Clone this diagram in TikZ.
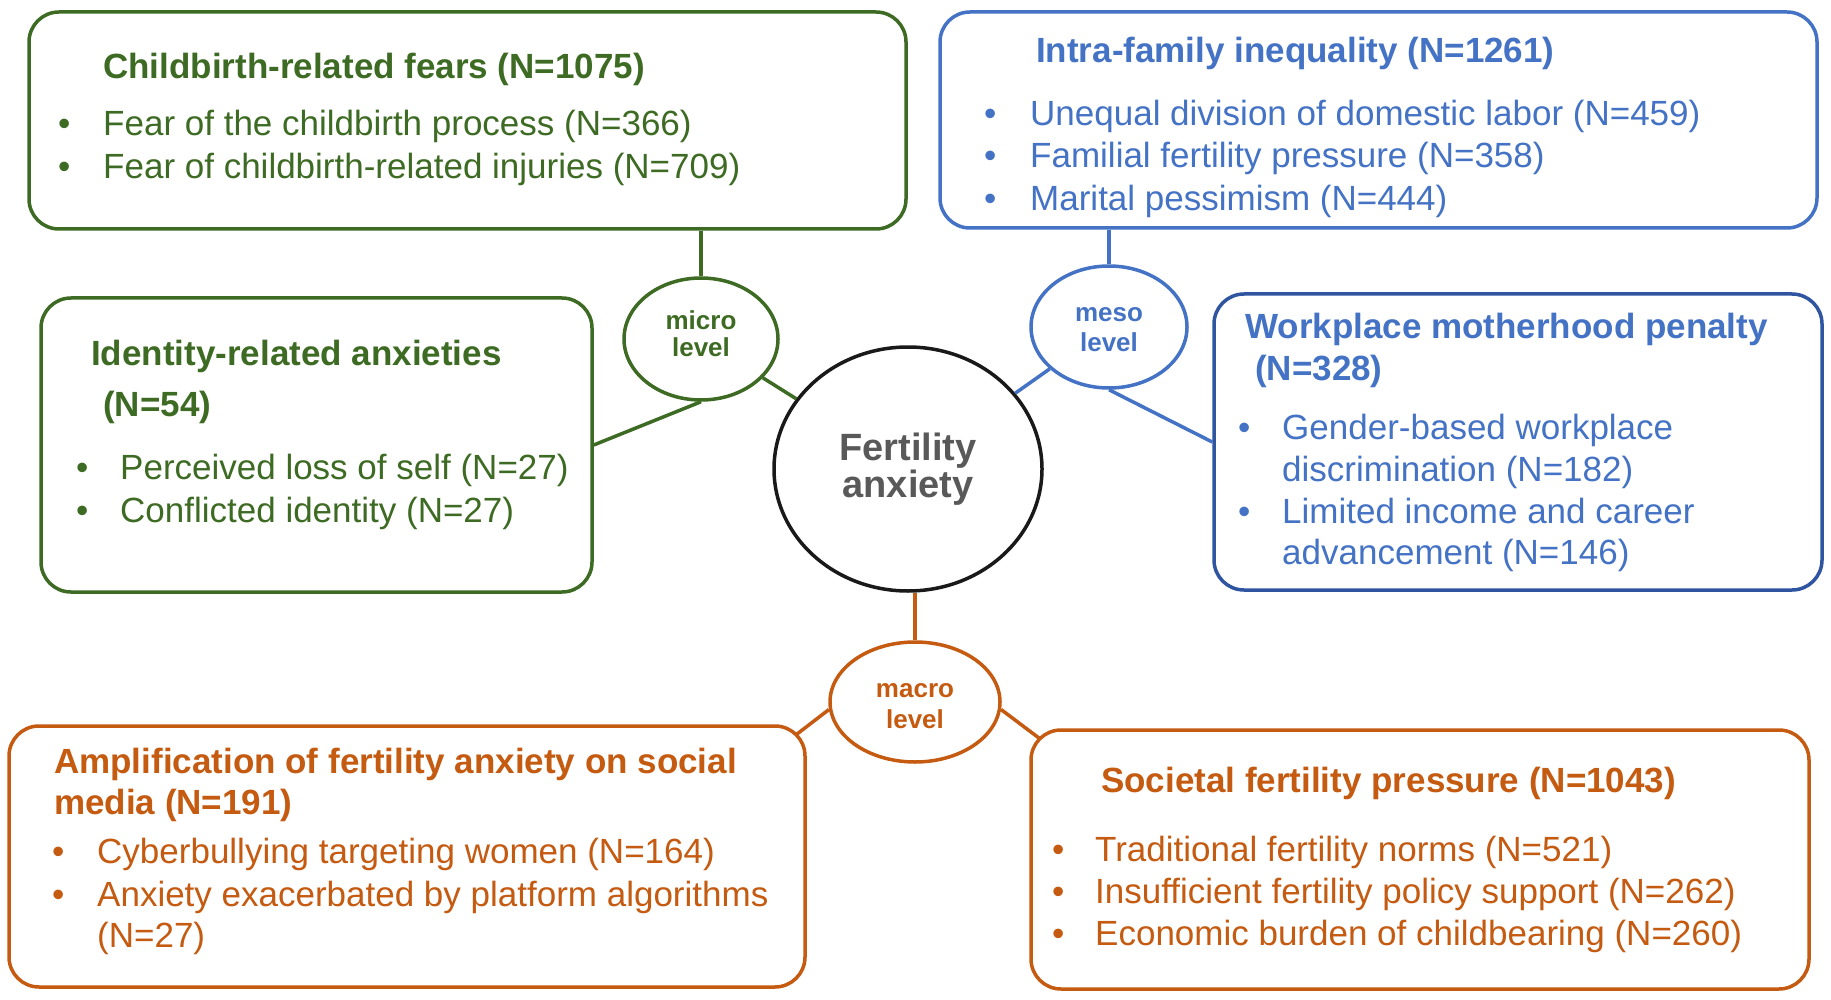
\documentclass[tikz,border=0pt]{standalone}
\usepackage{fontspec}
\setmainfont{Liberation Sans}
\usetikzlibrary{shapes.geometric}
\definecolor{cgreen}{HTML}{3E6B23}
\definecolor{cblue}{HTML}{4472C4}
\definecolor{cblued}{HTML}{2F55A0}
\definecolor{corange}{HTML}{C55A11}
\definecolor{cgray}{HTML}{595959}
\begin{document}
\begin{tikzpicture}[x=1pt,y=-1pt,
  box/.style={draw, rounded corners=30pt, line width=3.5pt, inner sep=0pt},
  lvl/.style={draw, ellipse, line width=3.5pt, inner sep=0pt},
  lvltxt/.style={inner sep=0pt, anchor=base, font=\fontsize{26}{26}\selectfont\bfseries},
  conn/.style={line width=3.5pt},
  txt/.style={inner sep=0pt, anchor=base west, font=\fontsize{35}{43}\selectfont},
  hd/.style={txt, font=\fontsize{35}{43}\selectfont\bfseries},
  bul/.style={inner sep=0pt, anchor=base west, font=\fontsize{35}{43}\selectfont}
]
\fill[white] (0,0) rectangle (1831,1000);
\useasboundingbox (0,0) rectangle (1831,1000);

% ---------------- boxes ----------------
\node[box, cgreen, minimum width=877pt, minimum height=217pt] (b1) at (467.5,120.5) {};
\node[box, cblue, minimum width=877pt, minimum height=216pt] (b2) at (1378.5,120) {};
\node[box, cgreen, minimum width=551pt, minimum height=294pt] (b3) at (316.5,445) {};
\node[box, cblued, minimum width=608pt, minimum height=296pt] (b4) at (1518,442) {};
\node[box, corange, minimum width=796pt, minimum height=261pt] (b5) at (407,856.5) {};
\node[box, corange, minimum width=778pt, minimum height=259pt] (b6) at (1420,859.5) {};

% ---------------- central + level ellipses ----------------
\node[draw=black!90, ellipse, line width=3.5pt, minimum width=268pt, minimum height=244pt,
      align=center, text=cgray, font=\fontsize{38}{37}\selectfont\bfseries] (center) at (908,469) {Fertility\\anxiety};
\node[lvl, cgreen, minimum width=154pt, minimum height=122pt] (micro) at (701,339) {};
\node[lvl, cblue, minimum width=156pt, minimum height=122pt] (meso) at (1109,327) {};
\node[lvl, corange, minimum width=170pt, minimum height=120pt] (macro) at (915,702) {};
\node[lvltxt, cgreen] (micro1) at (701,330) {micro};
\node[lvltxt, cgreen] (micro2) at (701,356) {level};
\node[lvltxt, cblue] (meso1) at (1109,321) {meso};
\node[lvltxt, cblue] (meso2) at (1109,351) {level};
\node[lvltxt, corange] (macro1) at (915,697) {macro};
\node[lvltxt, corange] (macro2) at (915,728) {level};

% ---------------- connectors ----------------
\draw[conn, cgreen] (micro.north) -- (micro.north |- b1.south);
\draw[conn, cgreen] (micro.south) -- (b3.east);
\draw[conn, cgreen] (micro) -- (center);
\draw[conn, cblue] (meso.north) -- (meso.north |- b2.south);
\draw[conn, cblue] (meso) -- (center);
\draw[conn, cblue] (meso.south) -- (b4.west);
\draw[conn, corange] (macro.north) -- (macro.north |- center.south);
\draw[conn, corange] (macro.185) -- ([xshift=-10pt,yshift=-10pt]b5.north east);
\draw[conn, corange] (macro.355) -- ([xshift=10pt,yshift=-10pt]b6.north west);

% ---------------- box 1 text ----------------
\begin{scope}[cgreen]
\node[hd] (b1h) at (103,79) {Childbirth-related fears (N=1075)};
\node[bul] (b1d1) at (58,136) {•};
\node[txt] (b1t1) at (103,136) {Fear of the childbirth process (N=366)};
\node[bul] (b1d2) at (58,179) {•};
\node[txt] (b1t2) at (103,179) {Fear of childbirth-related injuries (N=709)};
\end{scope}

% ---------------- box 2 text ----------------
\begin{scope}[cblue]
\node[hd] (b2h) at (1036,63) {Intra-family inequality (N=1261)};
\node[bul] (b2d1) at (984,126) {•};
\node[txt] (b2t1) at (1030,126) {Unequal division of domestic labor (N=459)};
\node[bul] (b2d2) at (984,168) {•};
\node[txt] (b2t2) at (1030,168) {Familial fertility pressure (N=358)};
\node[bul] (b2d3) at (984,211) {•};
\node[txt] (b2t3) at (1030,211) {Marital pessimism (N=444)};
\end{scope}

% ---------------- box 3 text ----------------
\begin{scope}[cgreen]
\node[hd] (b3h1) at (91,365) {Identity-related anxieties};
\node[hd] (b3h2) at (103,416) {(N=54)};
\node[bul] (b3d1) at (76,479) {•};
\node[txt] (b3t1) at (120,479) {Perceived loss of self (N=27)};
\node[bul] (b3d2) at (76,522) {•};
\node[txt] (b3t2) at (120,522) {Conflicted identity (N=27)};
\end{scope}

% ---------------- box 4 text ----------------
\begin{scope}[cblue]
\node[hd] (b4h1) at (1245,338) {Workplace motherhood penalty};
\node[hd] (b4h2) at (1255,380) {(N=328)};
\node[bul] (b4d1) at (1238,439) {•};
\node[txt] (b4t1) at (1282,439) {Gender-based workplace};
\node[txt] (b4t2) at (1282,481) {discrimination (N=182)};
\node[bul] (b4d2) at (1238,523) {•};
\node[txt] (b4t3) at (1282,523) {Limited income and career};
\node[txt] (b4t4) at (1282,564) {advancement (N=146)};
\end{scope}

% ---------------- box 5 text ----------------
\begin{scope}[corange]
\node[hd] (b5h1) at (54,773) {Amplification of fertility anxiety on social};
\node[hd] (b5h2) at (54,814) {media (N=191)};
\node[bul] (b5d1) at (52,863) {•};
\node[txt] (b5t1) at (97,863) {Cyberbullying targeting women (N=164)};
\node[bul] (b5d2) at (52,906) {•};
\node[txt] (b5t2) at (97,906) {Anxiety exacerbated by platform algorithms};
\node[txt] (b5t3) at (97,947) {(N=27)};
\end{scope}

% ---------------- box 6 text ----------------
\begin{scope}[corange]
\node[hd] (b6h) at (1101,792) {Societal fertility pressure (N=1043)};
\node[bul] (b6d1) at (1052,861) {•};
\node[txt] (b6t1) at (1095,861) {Traditional fertility norms (N=521)};
\node[bul] (b6d2) at (1052,903) {•};
\node[txt] (b6t2) at (1095,903) {Insufficient fertility policy support (N=262)};
\node[bul] (b6d3) at (1052,945) {•};
\node[txt] (b6t3) at (1095,945) {Economic burden of childbearing (N=260)};
\end{scope}
\end{tikzpicture}
\end{document}
